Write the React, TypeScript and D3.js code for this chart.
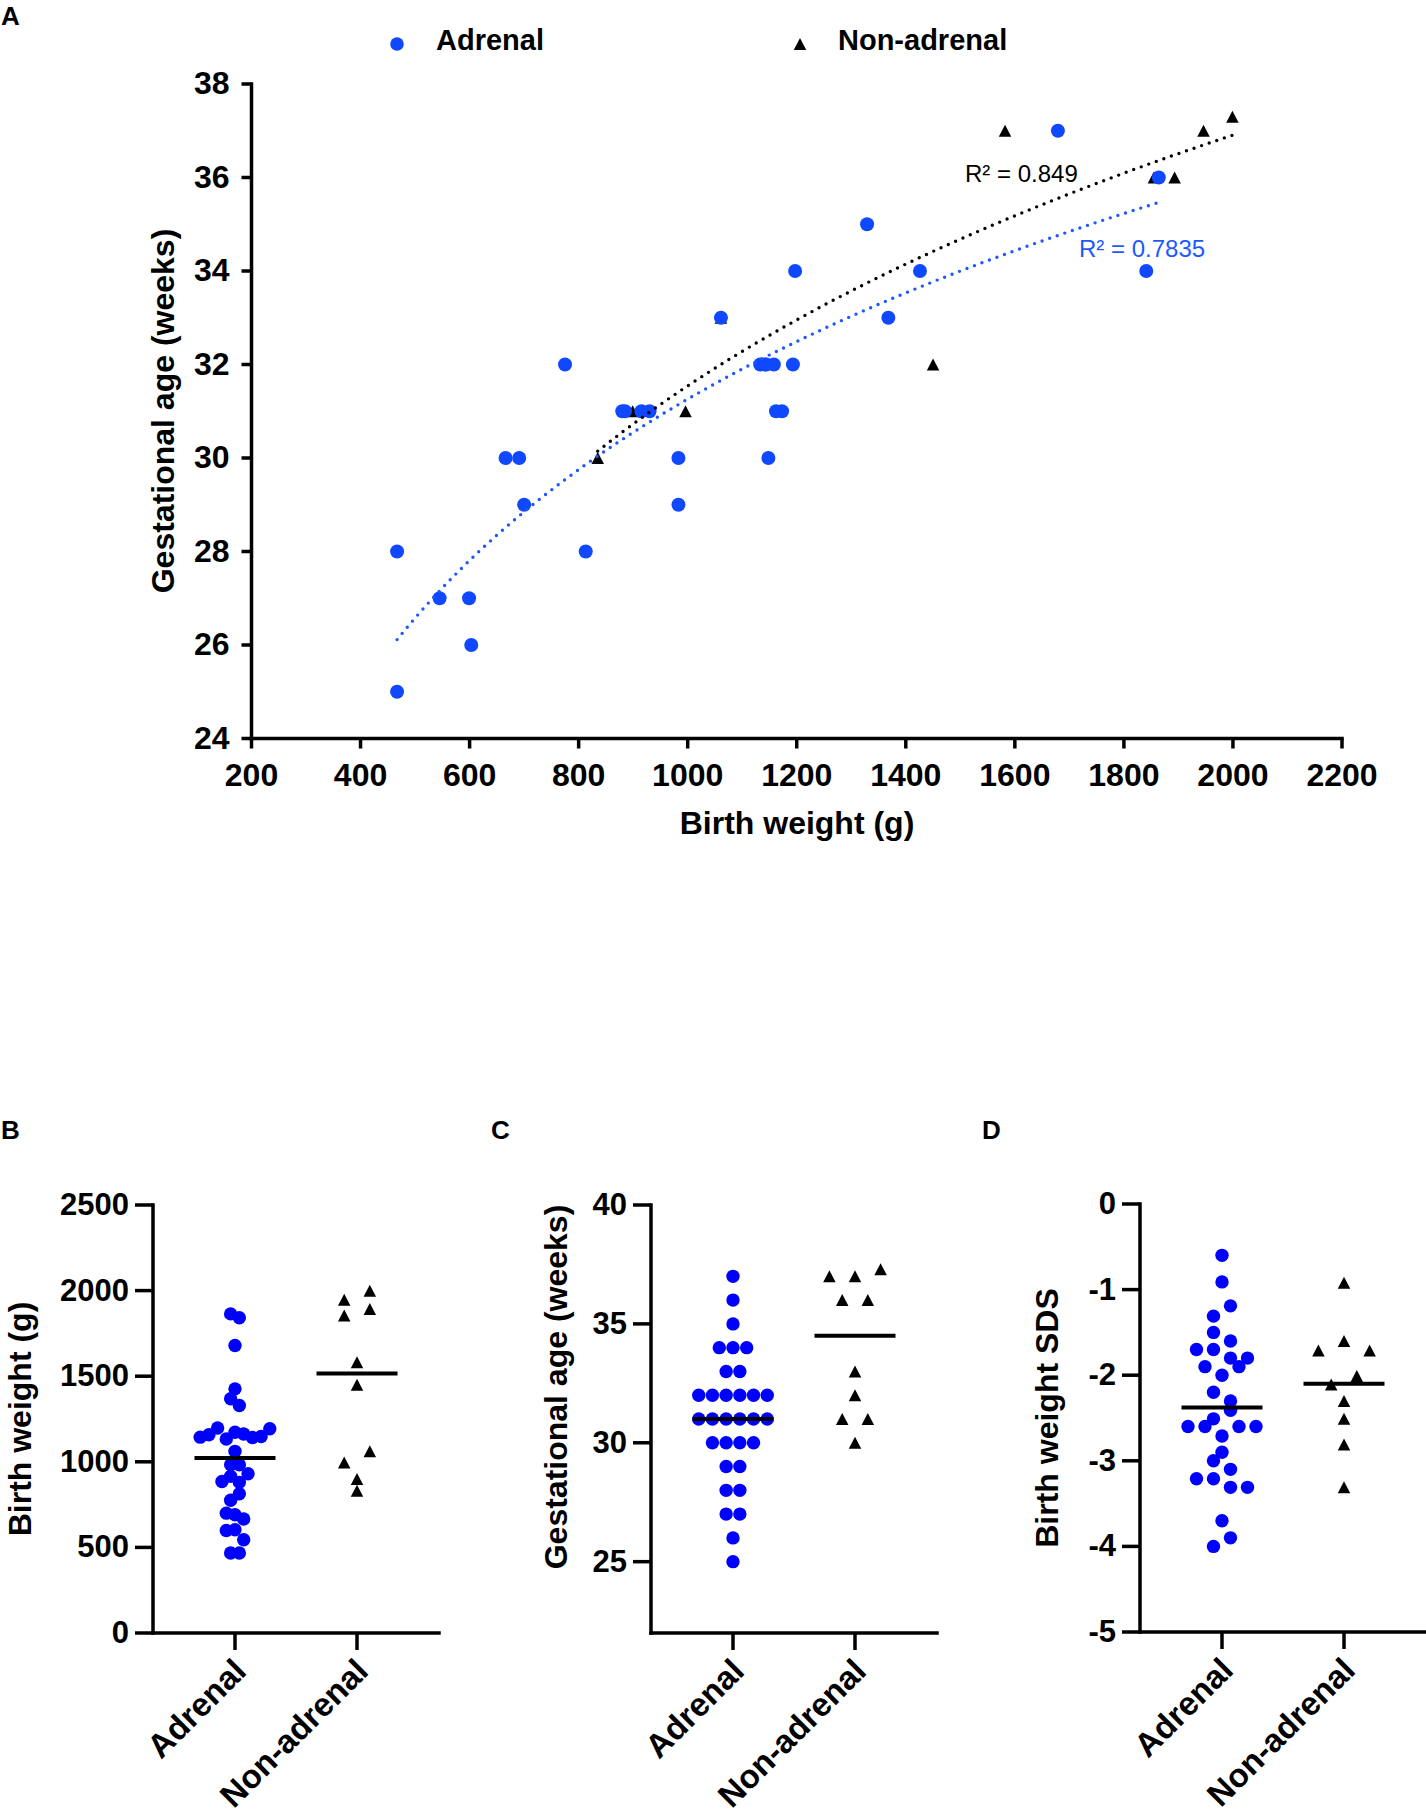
import { useEffect, useRef } from "react";
import * as d3 from "d3";

const FONT = "'Liberation Sans', Arial, Helvetica, sans-serif";
const BLUE_A = "#1048ff";   // panel A markers
const BLUE_LINE = "#1d58ff"; // adrenal trend line + R² label
const BLUE_DOT = "#0000ff"; // panels B–D markers

// ── Panel A: one entry per infant, birth weight (g) and gestational age (weeks)
const adrenalWeight = [467, 603, 545, 599, 467, 813, 700, 983, 666, 691, 983, 1148, 880, 885, 915, 930, 1162, 1173, 775, 1133, 1142, 1144, 1158, 1193, 1061, 1368, 1197, 1426, 1841, 1329, 1864, 1679];
const adrenalGA = [25, 26, 27, 27, 28, 28, 29, 29, 30, 30, 30, 30, 31, 31, 31, 31, 31, 31, 32, 32, 32, 32, 32, 32, 33, 33, 34, 34, 34, 35, 36, 37];
const nonAdrenalWeight = [835, 899, 996, 1450, 1061, 1855, 1893, 1582, 1946, 1999];
const nonAdrenalGA = [30, 31, 31, 32, 33, 36, 36, 37, 37, 37.3];
const r2Labels = ["R² = 0.7835", "R² = 0.849"]; // adrenal, non-adrenal
const xTicksA = [200, 400, 600, 800, 1000, 1200, 1400, 1600, 1800, 2000, 2200];
const yTicksA = [24, 26, 28, 30, 32, 34, 36, 38];

const groups = ["Adrenal", "Non-adrenal"];

// ── Panel B: birth weight (g), in spreadsheet order
const bwAdrenal = [467, 467, 599, 603, 545, 700, 691, 666, 775, 813, 885, 915, 880, 930, 983, 983, 1061, 1144, 1158, 1197, 1133, 1173, 1162, 1142, 1148, 1193, 1368, 1329, 1426, 1679, 1864, 1841];
const bwNonAdrenal = [831, 899, 996, 1061, 1450, 1582, 1855, 1893, 1946, 1999];
const bwTicks = [0, 500, 1000, 1500, 2000, 2500];

// ── Panel C: gestational age (weeks)
const gaAdrenal = [37, 36, 35, 34, 34, 34, 33, 33, 32, 32, 32, 32, 32, 32, 31, 31, 31, 31, 31, 31, 30, 30, 30, 30, 29, 29, 28, 28, 27, 27, 26, 25];
const gaNonAdrenal = [30, 31, 31, 32, 33, 36, 36, 37, 37, 37.3];
const gaTicks = [25, 30, 35, 40];

// ── Panel D: birth weight SDS
const sdsAdrenal = [-4.0, -3.9, -3.7, -3.21, -3.21, -3.31, -3.31, -3.0, -3.1, -2.9, -2.6, -2.6, -2.71, -2.6, -2.6, -2.51, -2.41, -2.2, -2.3, -1.9, -2.0, -1.9, -1.7, -1.7, -1.8, -1.8, -1.5, -1.6, -1.31, -1.19, -0.91, -0.6];
const sdsNonAdrenal = [-3.31, -2.81, -2.51, -2.3, -2.11, -2.01, -1.71, -1.6, -1.71, -0.92];
const sdsTicks = [0, -1, -2, -3, -4, -5];

type Sel = d3.Selection<SVGGElement, unknown, null, undefined>;
type Svg = d3.Selection<SVGSVGElement, unknown, null, undefined>;

const triPath = (w: number, h: number) => `M0,${-h / 2}L${w / 2},${h / 2}L${-w / 2},${h / 2}Z`;

// y = a·ln(x) + b, least squares (Excel "logarithmic" trendline)
function logFit(xs: number[], ys: number[]) {
  const lx = xs.map(Math.log);
  const mx = d3.mean(lx)!;
  const my = d3.mean(ys)!;
  const a = d3.sum(lx, (v, i) => (v - mx) * (ys[i] - my)) / d3.sum(lx, (v) => (v - mx) ** 2);
  return { a, b: my - a * mx };
}

// Prism-like scatter: bin points that overlap vertically, centre each bin's row
function swarm(values: number[], y: (v: number) => number, spacing: number, binPx = 11.5) {
  const order = d3.range(values.length).sort((i, j) => values[i] - values[j] || i - j);
  const bins: number[][] = [];
  let start = NaN;
  for (const i of order) {
    const py = y(values[i]);
    if (bins.length && Math.abs(py - start) < binPx) bins[bins.length - 1].push(i);
    else {
      bins.push([i]);
      start = py;
    }
  }
  const off = new Array(values.length).fill(0);
  for (const b of bins) {
    b.sort((p, q) => p - q);
    b.forEach((i, k) => (off[i] = (k - (b.length - 1) / 2) * spacing));
  }
  return off;
}

function styleAxis(g: Sel, size: number) {
  g.attr("font-family", FONT).attr("font-size", size).attr("font-weight", "bold");
  g.select(".domain").attr("stroke", "#000").attr("stroke-width", 3.5).attr("stroke-linecap", "square");
  g.selectAll(".tick line").attr("stroke", "#000").attr("stroke-width", 3.5);
  g.selectAll(".tick text").attr("fill", "#000");
}

function panelLetter(svg: Svg, t: string, x: number, y: number) {
  svg.append("text").attr("x", x).attr("y", y).attr("font-family", FONT).attr("font-size", 26)
    .attr("font-weight", "bold").text(t);
}

interface DotPanel {
  axisX: number;
  top: number;
  bottom: number;
  domain: [number, number];
  ticks: number[];
  adrenal: number[];
  nonAdrenal: number[];
  spacing: [number, number];
  centre: (v: number[]) => number;
  title: string;
  titleX: number;
  titleY: number;
}

function drawDotPanel(svg: Svg, p: DotPanel) {
  const root = svg.append("g");
  const y = d3.scaleLinear().domain(p.domain).range([p.bottom, p.top]);
  const x = d3.scalePoint<string>().domain(groups).range([p.axisX, p.axisX + 286]).padding(0.672);

  // y axis
  const yg = root.append("g").attr("transform", `translate(${p.axisX},0)`);
  yg.call(d3.axisLeft(y).tickValues(p.ticks).tickSize(18).tickSizeOuter(0).tickPadding(6).tickFormat((d) => `${d}`).offset(0));
  styleAxis(yg, 31);

  // x axis with rotated category labels
  const xg = root.append("g").attr("transform", `translate(0,${p.bottom})`);
  xg.call(d3.axisBottom(x).tickSize(17).tickSizeOuter(0).offset(0));
  styleAxis(xg, 33);
  xg.selectAll(".tick text")
    .attr("y", null)
    .attr("dy", null)
    .attr("text-anchor", "end")
    .attr("transform", "translate(13,40) rotate(-45)");

  // title
  root.append("text")
    .attr("transform", `translate(${p.titleX},${p.titleY}) rotate(-90)`)
    .attr("text-anchor", "middle").attr("font-family", FONT).attr("font-size", 32).attr("font-weight", "bold")
    .text(p.title);

  // adrenal dots
  const cA = x(groups[0])!;
  const offA = swarm(p.adrenal, y, p.spacing[0]);
  root.append("g").selectAll("circle").data(p.adrenal).join("circle")
    .attr("cx", (_, i) => cA + offA[i]).attr("cy", (d) => y(d)).attr("r", 6.7).attr("fill", BLUE_DOT);

  // non-adrenal triangles
  const cN = x(groups[1])!;
  const offN = swarm(p.nonAdrenal, y, p.spacing[1]);
  root.append("g").selectAll("path").data(p.nonAdrenal).join("path")
    .attr("d", triPath(12.5, 12))
    .attr("transform", (d, i) => `translate(${cN + offN[i]},${y(d)})`)
    .attr("fill", "#000");

  // centre lines
  const centres = [p.centre(p.adrenal), p.centre(p.nonAdrenal)];
  root.append("g").selectAll("line").data(centres).join("line")
    .attr("x1", (_, i) => x(groups[i])! - 40.5).attr("x2", (_, i) => x(groups[i])! + 40.5)
    .attr("y1", (d) => y(d)).attr("y2", (d) => y(d))
    .attr("stroke", "#000").attr("stroke-width", 4);
}

export default function App() {
  const svgRef = useRef<SVGSVGElement>(null);

  useEffect(() => {
    const svgEl = svgRef.current;
    if (!svgEl) return;
    const svg = d3.select(svgEl);
    svg.selectAll("*").remove();

    // ── Panel A ────────────────────────────────────────────────────────────
    const xA = d3.scaleLinear().domain([200, 2200]).range([251.5, 1342]);
    const yA = d3.scaleLinear().domain([24, 38]).range([738.5, 84]);
    const gA = svg.append("g");

    const yAx = gA.append("g").attr("transform", "translate(251.5,0)");
    yAx.call(d3.axisLeft(yA).tickValues(yTicksA).tickSize(10).tickSizeOuter(0).tickPadding(12).tickFormat((d) => `${d}`).offset(0));
    styleAxis(yAx, 32);

    const xAx = gA.append("g").attr("transform", "translate(0,738.5)");
    xAx.call(d3.axisBottom(xA).tickValues(xTicksA).tickSize(10).tickSizeOuter(0).tickPadding(15).tickFormat((d) => `${d}`).offset(0));
    styleAxis(xAx, 32);

    gA.append("text").attr("x", 797).attr("y", 834).attr("text-anchor", "middle")
      .attr("font-family", FONT).attr("font-size", 32).attr("font-weight", "bold").text("Birth weight (g)");
    gA.append("text").attr("transform", "translate(174,411) rotate(-90)").attr("text-anchor", "middle")
      .attr("font-family", FONT).attr("font-size", 32).attr("font-weight", "bold").text("Gestational age (weeks)");

    // triangles under the dots
    gA.append("g").selectAll("path").data(nonAdrenalWeight).join("path")
      .attr("d", triPath(12.5, 12))
      .attr("transform", (d, i) => `translate(${xA(d)},${yA(nonAdrenalGA[i])})`)
      .attr("fill", "#000");
    gA.append("g").selectAll("circle").data(adrenalWeight).join("circle")
      .attr("cx", (d) => xA(d)).attr("cy", (_, i) => yA(adrenalGA[i])).attr("r", 7).attr("fill", BLUE_A);

    // logarithmic trendlines
    const trend = (xs: number[], ys: number[]) => {
      const { a, b } = logFit(xs, ys);
      const [lo, hi] = d3.extent(xs) as [number, number];
      const pts = d3.range(0, 121).map((k) => lo + ((hi - lo) * k) / 120);
      return d3.line<number>().x((v) => xA(v)).y((v) => yA(a * Math.log(v) + b))(pts)!;
    };
    gA.append("path").attr("d", trend(nonAdrenalWeight, nonAdrenalGA)).attr("fill", "none")
      .attr("stroke", "#000").attr("stroke-width", 3.4).attr("stroke-linecap", "round").attr("stroke-dasharray", "0 8");
    gA.append("path").attr("d", trend(adrenalWeight, adrenalGA)).attr("fill", "none")
      .attr("stroke", BLUE_LINE).attr("stroke-width", 3.4).attr("stroke-linecap", "round").attr("stroke-dasharray", "0 8");

    gA.append("text").attr("x", 965).attr("y", 182).attr("font-family", FONT).attr("font-size", 24)
      .attr("fill", "#000").text(r2Labels[1]);
    gA.append("text").attr("x", 1079).attr("y", 257).attr("font-family", FONT).attr("font-size", 24)
      .attr("fill", BLUE_LINE).text(r2Labels[0]);

    // legend
    const lg = gA.append("g").attr("font-family", FONT).attr("font-size", 29).attr("font-weight", "bold");
    lg.append("circle").attr("cx", 397).attr("cy", 44).attr("r", 6.8).attr("fill", BLUE_A);
    lg.append("text").attr("x", 436).attr("y", 50).text(groups[0]);
    lg.append("path").attr("d", triPath(12.5, 12)).attr("transform", "translate(800,44)").attr("fill", "#000");
    lg.append("text").attr("x", 838).attr("y", 50).text(groups[1]);

    panelLetter(svg, "A", 1, 25);

    // ── Panels B, C, D ─────────────────────────────────────────────────────
    // B and C show the median, D shows the mean
    const median = (v: number[]) => d3.median(v)!;
    const mean = (v: number[]) => d3.mean(v)!;

    drawDotPanel(svg, {
      axisX: 153, top: 1205, bottom: 1633, domain: [0, 2500], ticks: bwTicks,
      adrenal: bwAdrenal, nonAdrenal: bwNonAdrenal, spacing: [8.7, 25.6], centre: median,
      title: "Birth weight (g)", titleX: 31, titleY: 1419,
    });
    drawDotPanel(svg, {
      axisX: 651, top: 1205, bottom: 1633, domain: [22, 40], ticks: gaTicks,
      adrenal: gaAdrenal, nonAdrenal: gaNonAdrenal, spacing: [13.7, 25.6], centre: median,
      title: "Gestational age (weeks)", titleX: 567, titleY: 1387,
    });
    drawDotPanel(svg, {
      axisX: 1140, top: 1204, bottom: 1632, domain: [-5, 0], ticks: sdsTicks,
      adrenal: sdsAdrenal, nonAdrenal: sdsNonAdrenal, spacing: [17, 25.6], centre: mean,
      title: "Birth weight SDS", titleX: 1058, titleY: 1418,
    });

    panelLetter(svg, "B", 1, 1139);
    panelLetter(svg, "C", 491, 1139);
    panelLetter(svg, "D", 982, 1139);
  }, []);

  return (
    <div style={{ position: "absolute", left: 0, top: 0 }}>
      <style>{"body{margin:0;background:#fff}"}</style>
      <svg ref={svgRef} width={1426} height={1814} style={{ display: "block", background: "#fff" }} />
    </div>
  );
}
